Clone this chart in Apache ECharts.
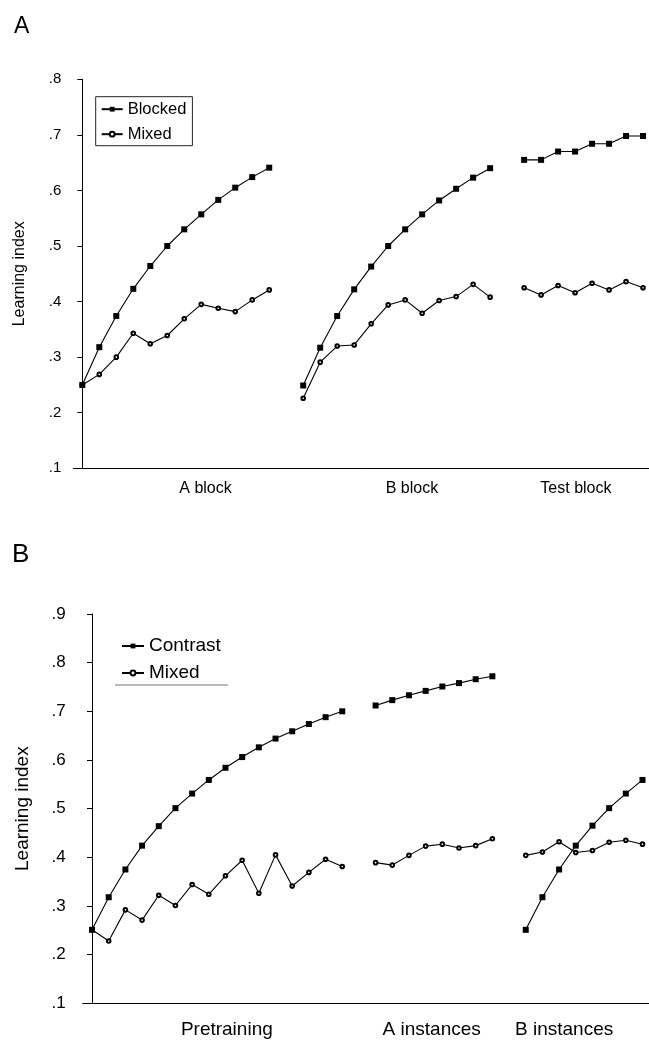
<!DOCTYPE html>
<html>
<head>
<meta charset="utf-8">
<script src="https://cdn.jsdelivr.net/npm/echarts@6/dist/echarts.min.js"></script>
<style>
html,body{margin:0;padding:0;background:#fff;}
#chart{width:649px;height:1041px;}
</style>
</head>
<body>
<div id="chart"></div>
<script>
// ---------- Panel A data ----------
const panelACategories = ['A block', 'B block', 'Test block'];
const aBlockBlocked = [0.250, 0.318, 0.374, 0.423, 0.464, 0.500, 0.530, 0.557, 0.583, 0.605, 0.624, 0.641];
const aBlockMixed   = [0.250, 0.269, 0.300, 0.343, 0.324, 0.339, 0.369, 0.395, 0.388, 0.382, 0.403, 0.421];
const bBlockBlocked = [0.249, 0.317, 0.374, 0.422, 0.463, 0.500, 0.530, 0.557, 0.582, 0.603, 0.623, 0.640];
const bBlockMixed   = [0.226, 0.291, 0.320, 0.322, 0.360, 0.394, 0.403, 0.379, 0.402, 0.409, 0.431, 0.408];
const testBlocked   = [0.655, 0.655, 0.670, 0.670, 0.684, 0.684, 0.698, 0.698];
const testMixed     = [0.425, 0.412, 0.429, 0.416, 0.433, 0.421, 0.436, 0.425];
const panelATickLabels = ['.1', '.2', '.3', '.4', '.5', '.6', '.7', '.8'];

// ---------- Panel B data ----------
const panelBCategories = ['Pretraining', 'A instances', 'B instances'];
const preContrast   = [0.251, 0.318, 0.375, 0.424, 0.464, 0.501, 0.531, 0.559, 0.584, 0.606, 0.626, 0.644, 0.659, 0.674, 0.688, 0.700];
const preMixed      = [0.251, 0.228, 0.292, 0.271, 0.322, 0.301, 0.344, 0.324, 0.362, 0.394, 0.326, 0.405, 0.341, 0.369, 0.396, 0.381];
const aInstContrast = [0.712, 0.723, 0.733, 0.742, 0.751, 0.758, 0.766, 0.772];
const aInstMixed    = [0.389, 0.384, 0.404, 0.423, 0.427, 0.419, 0.424, 0.438];
const bInstContrast = [0.251, 0.318, 0.375, 0.424, 0.465, 0.501, 0.531, 0.559];
const bInstMixed    = [0.404, 0.411, 0.432, 0.410, 0.414, 0.431, 0.435, 0.427];
const panelBTickLabels = ['.1', '.2', '.3', '.4', '.5', '.6', '.7', '.8', '.9'];

// ---------- layout (trial slots along the x axis) ----------
const segStartA = [0, 13, 26];
const segStartB = [0, 17, 26];
const labelPosA = [7.25, 19.4, 29.05];
const labelPosB = [8.08, 20.36, 28.3];

const FONT = '"Liberation Sans", Arial, Helvetica, sans-serif';

function seg(values, start) {
  return values.map((v, i) => [start + i, v]);
}

function lineSeries(name, values, start, gridIdx, kind) {
  const filled = kind === 'filled';
  return {
    type: 'line',
    name: name,
    xAxisIndex: gridIdx,
    yAxisIndex: gridIdx,
    data: seg(values, start),
    symbol: filled ? 'rect' : 'emptyCircle',
    symbolSize: filled ? 6 : 3.6,
    showAllSymbol: true,
    animation: false,
    lineStyle: { color: '#000', width: 1.1 },
    itemStyle: filled ? { color: '#000' } : { color: '#000', borderColor: '#000', borderWidth: 1 },
    emphasis: { disabled: true },
    z: filled ? 3 : 2
  };
}

const series = [
  lineSeries('Blocked', aBlockBlocked, segStartA[0], 0, 'filled'),
  lineSeries('Blocked', bBlockBlocked, segStartA[1], 0, 'filled'),
  lineSeries('Blocked', testBlocked,   segStartA[2], 0, 'filled'),
  lineSeries('Mixed',   aBlockMixed,   segStartA[0], 0, 'open'),
  lineSeries('Mixed',   bBlockMixed,   segStartA[1], 0, 'open'),
  lineSeries('Mixed',   testMixed,     segStartA[2], 0, 'open'),
  lineSeries('Contrast', preContrast,   segStartB[0], 1, 'filled'),
  lineSeries('Contrast', aInstContrast, segStartB[1], 1, 'filled'),
  lineSeries('Contrast', bInstContrast, segStartB[2], 1, 'filled'),
  lineSeries('Mixed',    preMixed,      segStartB[0], 1, 'open'),
  lineSeries('Mixed',    aInstMixed,    segStartB[1], 1, 'open'),
  lineSeries('Mixed',    bInstMixed,    segStartB[2], 1, 'open')
];

function yAxis(gridIdx, max, labels, fontSize, margin, nameSize, nameGap) {
  return {
    type: 'value',
    gridIndex: gridIdx,
    min: 0.1, max: max, interval: 0.1,
    name: 'Learning index',
    nameLocation: 'middle',
    nameRotate: 90,
    nameGap: nameGap,
    nameTextStyle: { fontFamily: FONT, fontSize: nameSize, color: '#000' },
    axisLine: { show: true, lineStyle: { color: '#000', width: 1 } },
    axisTick: { show: true, length: 5, inside: false, lineStyle: { color: '#000', width: 1 } },
    axisLabel: {
      margin: margin,
      fontFamily: FONT, fontSize: fontSize, color: '#000',
      formatter: function (v) { return labels[Math.round((v - 0.1) * 10)]; }
    },
    splitLine: { show: false }
  };
}

function xAxis(gridIdx, min, max, cats, pos, fontSize, margin) {
  return {
    type: 'value',
    gridIndex: gridIdx,
    min: min, max: max,
    axisLine: { show: true, onZero: false, lineStyle: { color: '#000', width: 1 } },
    axisTick: { show: false },
    splitLine: { show: false },
    axisLabel: {
      customValues: pos,
      margin: margin,
      fontFamily: FONT, fontSize: fontSize, color: '#000',
      formatter: function (v) {
        let best = 0, d = Infinity;
        pos.forEach((p, i) => { if (Math.abs(p - v) < d) { d = Math.abs(p - v); best = i; } });
        return cats[best];
      }
    }
  };
}

const option = {
  backgroundColor: '#fff',
  animation: false,
  title: [
    { text: 'A', left: 9, top: 10, textStyle: { fontFamily: FONT, fontSize: 23, fontWeight: 'normal', color: '#000' } },
    { text: 'B', left: 7, top: 537, textStyle: { fontFamily: FONT, fontSize: 26, fontWeight: 'normal', color: '#000' } }
  ],
  grid: [
    { left: 73.3, top: 79.3, right: 0, height: 389, containLabel: false },
    { left: 82.7, top: 614, right: 0, height: 389.3, containLabel: false }
  ],
  xAxis: [
    xAxis(0, -0.53, 33.35, panelACategories, labelPosA, 16, 12.5),
    xAxis(1, -0.56, 33.39, panelBCategories, labelPosB, 19, 17)
  ],
  yAxis: [
    yAxis(0, 0.8, panelATickLabels, 15, 12, 16, 46),
    yAxis(1, 0.9, panelBTickLabels, 17, 17, 19, 50)
  ],
  legend: [
    {
      data: ['Blocked', 'Mixed'],
      orient: 'vertical',
      left: 95.7, top: 96.7,
      padding: [4, 6, 3, 5],
      itemWidth: 21, itemHeight: 6, itemGap: 8,
      borderColor: '#222', borderWidth: 1,
      selectedMode: false,
      textStyle: { fontFamily: FONT, fontSize: 16.5, lineHeight: 16, color: '#000' }
    },
    {
      data: ['Contrast', 'Mixed'],
      orient: 'vertical',
      left: 121, top: 636.5,
      padding: 0,
      itemWidth: 22, itemHeight: 6, itemGap: 8,
      selectedMode: false,
      textStyle: { fontFamily: FONT, fontSize: 19, lineHeight: 19, color: '#000' }
    }
  ],
  graphic: [
    { type: 'line', shape: { x1: 115, y1: 685, x2: 228, y2: 685 }, style: { stroke: '#777', lineWidth: 1 } }
  ],
  series: series
};

const chart = echarts.init(document.getElementById('chart'), null, { renderer: 'canvas' });
chart.setOption(option);
</script>
</body>
</html>
